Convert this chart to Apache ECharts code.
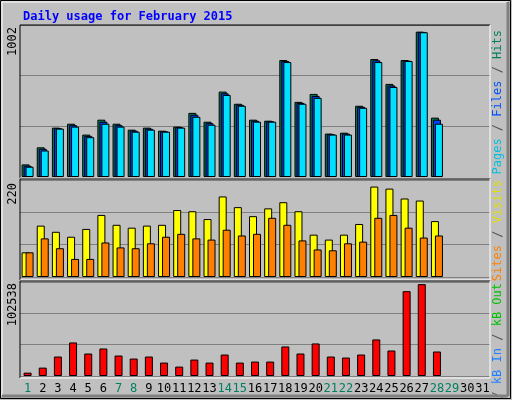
<!DOCTYPE html><html><head><meta charset="utf-8">
<script src="https://cdn.jsdelivr.net/npm/echarts@6/dist/echarts.min.js"></script>
<style>html,body{margin:0;padding:0;background:#c0c0c0}#c{width:512px;height:400px}</style></head><body><div id="c"></div>
<script>
const days = Array.from({length:31},(_, i)=>String(i+1));
const weekendDays = ['1','7','8','14','15','21','22','28','29'];
const hits  = [87,205,341,368,293,396,368,327,341,320,348,443,382,590,506,396,389,808,519,574,300,306,492,815,643,808,1004,410];
const files = [78,195,338,358,284,382,358,320,334,316,344,430,372,578,499,389,385,801,512,560,296,300,485,806,632,804,1002,396];
const pages = [71,183,334,348,275,368,348,313,327,313,341,416,361,567,492,382,382,794,506,547,293,293,478,794,622,801,1000,368];
const visits = [60,125,110,98,117,151,127,120,125,127,163,160,141,196,170,148,167,182,160,103,91,103,129,220,215,191,186,136];
const sites  = [60,94,70,44,44,84,72,70,82,98,105,94,91,115,101,105,144,127,89,67,65,82,86,144,151,120,96,101];
const kbytes = [3743,9358,21711,37433,25081,30696,22834,19465,21711,14973,10481,18342,14973,23957,14973,16096,16096,32942,25081,36310,21711,20587,23957,40801,28448,94677,102538,27325];
const maxLabels = ['1002','220','102538'];

const chart = echarts.init(document.getElementById('c'));
const F = 'DejaVu Sans Mono';
const grids = [{left:20,right:22,top:25,height:152},{left:20,right:22,top:180,height:97},{left:20,right:22,top:282,height:94}];
const ymax = [1050,236,104900];
const bs = {borderColor:'#000',borderWidth:1};
function xa(i){return {type:'category',gridIndex:i,data:days,boundaryGap:true,
  axisLine:{show:false},axisTick:{show:false},
  axisLabel:{show:i===2,interval:0,fontFamily:F,fontSize:12,margin:7,
    color:(v)=>weekendDays.includes(v)?'#008060':'#000'}};}
function ya(i){return {type:'value',gridIndex:i,min:0,max:ymax[i],interval:ymax[i]/3,
  axisLabel:{show:false},axisLine:{show:false},axisTick:{show:false},
  splitLine:{lineStyle:{color:'#808080',width:1}}};}
function plotFrame(g,top,h){
  const l=20,r=490;
  return [
    {type:'line',shape:{x1:l,y1:top,x2:r,y2:top},style:{stroke:'#000',lineWidth:1},z:10},
    {type:'line',shape:{x1:l,y1:top,x2:l,y2:top+h},style:{stroke:'#000',lineWidth:1},z:10},
    {type:'line',shape:{x1:r,y1:top,x2:r,y2:top+h},style:{stroke:'#fff',lineWidth:1},z:10},
    {type:'line',shape:{x1:l,y1:top+h,x2:r,y2:top+h},style:{stroke:'#fff',lineWidth:1},z:10}];
}
function vtext(x,y,text,rich){return {type:'text',x:x,y:y,rotation:Math.PI/2,
  style:{text:text,rich:rich,font:'12px '+F,fill:'#000',align:'right',verticalAlign:'middle'},z:20};}
const richR={p:{fill:'#00c0e0',font:'12px '+F},f:{fill:'#0050ff',font:'12px '+F},h:{fill:'#008060',font:'12px '+F},
  s:{fill:'#505050',font:'12px '+F},v:{fill:'#e0e000',font:'12px '+F},o:{fill:'#ff8000',font:'12px '+F},
  r:{fill:'#ff0000',font:'12px '+F},b:{fill:'#2080ff',font:'12px '+F},g:{fill:'#00c000',font:'12px '+F}};
chart.setOption({
  backgroundColor:'#c0c0c0', animation:false,
  title:{text:'Daily usage for February 2015',left:18,top:6,textStyle:{fontFamily:F,fontSize:12,fontWeight:'bold',color:'#0000ff'}},
  grid:grids, xAxis:[xa(0),xa(1),xa(2)], yAxis:[ya(0),ya(1),ya(2)],
  series:[
    {type:'bar',xAxisIndex:0,yAxisIndex:0,data:hits,barWidth:8,barGap:'-75%',itemStyle:Object.assign({color:'#00805c'},bs)},
    {type:'bar',xAxisIndex:0,yAxisIndex:0,data:files,barWidth:8,barGap:'-75%',itemStyle:Object.assign({color:'#0040ff'},bs)},
    {type:'bar',xAxisIndex:0,yAxisIndex:0,data:pages,barWidth:8,barGap:'-75%',itemStyle:Object.assign({color:'#00e0ff'},bs)},
    {type:'bar',xAxisIndex:1,yAxisIndex:1,data:visits,barWidth:8,barGap:'-50%',itemStyle:Object.assign({color:'#ffff00'},bs)},
    {type:'bar',xAxisIndex:1,yAxisIndex:1,data:sites,barWidth:8,barGap:'-50%',itemStyle:Object.assign({color:'#ff8000'},bs)},
    {type:'bar',xAxisIndex:2,yAxisIndex:2,data:kbytes,barWidth:8,itemStyle:Object.assign({color:'#ff0000'},bs)}
  ],
  graphic:[
    {type:'rect',shape:{x:0.5,y:0.5,width:510,height:398},style:{fill:'none',stroke:'#000',lineWidth:1},z:30},
    {type:'rect',shape:{x:2,y:2,width:506,height:394},style:{fill:'none',stroke:'#fff',lineWidth:1},z:30},
    {type:'line',shape:{x1:2,y1:396,x2:508,y2:396},style:{stroke:'#808080',lineWidth:3},z:30},
    {type:'line',shape:{x1:508,y1:2,x2:508,y2:396},style:{stroke:'#808080',lineWidth:3},z:30},
    ...plotFrame(0,25,153),...plotFrame(1,179,101),...plotFrame(2,281,97),
    vtext(13,27,maxLabels[0]),vtext(13,183,maxLabels[1]),vtext(13,283,maxLabels[2]),
    vtext(498,30,'{p|Pages} {s|/} {f|Files} {s|/} {h|Hits}',richR),
    vtext(498,180,'{o|Sites} {s|/} {v|Visits}',richR),
    vtext(498,283,'{r|kB F} {s|/} {b|kB In} {s|/} {g|kB Out}',richR)
  ]
});
</script></body></html>
